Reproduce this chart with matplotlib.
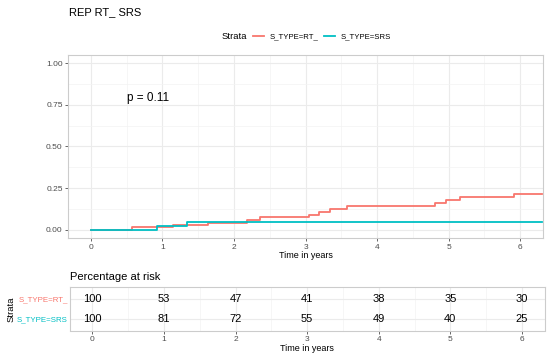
import matplotlib
matplotlib.use('Agg')
import matplotlib.pyplot as plt
from matplotlib.lines import Line2D
import numpy as np

plt.rcParams['font.family'] = ['Liberation Sans', 'DejaVu Sans']

# cumulative incidence curves (step, post)
rt_t = [0, 0.58, 1.15, 1.64, 2.18, 2.37, 3.05, 3.19, 3.34, 3.58, 4.81, 4.97, 5.16, 5.91, 6.3]
rt_y = [0, 0.015, 0.029, 0.043, 0.057, 0.074, 0.091, 0.107, 0.124, 0.141, 0.159, 0.177, 0.195, 0.215, 0.215]
srs_t = [0, 0.93, 1.34, 6.3]
srs_y = [0, 0.022, 0.045, 0.045]

# risk table
table_times = [0, 1, 2, 3, 4, 5, 6]
rt_risk = [100, 53, 47, 41, 38, 35, 30]
srs_risk = [100, 81, 72, 55, 49, 40, 25]
strata = ['S_TYPE=RT_', 'S_TYPE=SRS']
colors = ['#F8766D', '#00BFC4']

W, H = 550, 355
fig = plt.figure(figsize=(W / 100, H / 100), dpi=100)


def px_axes(l, r, t, b):
    return fig.add_axes([l / W, 1 - b / H, (r - l) / W, (b - t) / H])


def style(ax):
    for s in ax.spines.values():
        s.set_color('#CCCCCC')
        s.set_linewidth(0.8)
    ax.grid(True, which='major', color='#EBEBEB', lw=0.8)
    ax.grid(True, which='minor', color='#F3F3F3', lw=0.5)
    ax.set_axisbelow(True)
    ax.tick_params(which='major', length=2.5, width=0.6, color='#4D4D4D',
                   labelsize=6, labelcolor='#4D4D4D', pad=1.5)
    ax.tick_params(which='minor', length=0)


xlim = (-0.315, 6.315)

ax = px_axes(68.3, 542.7, 54.7, 238)
style(ax)
ax.step(rt_t, rt_y, where='post', color=colors[0], lw=1.3)
ax.step(srs_t, srs_y, where='post', color=colors[1], lw=1.3)
ax.set_xlim(*xlim)
ax.set_ylim(-0.05, 1.05)
ax.set_xticks(table_times)
ax.set_xticks(np.arange(0.5, 6.5, 1), minor=True)
ax.set_yticks([0, 0.25, 0.5, 0.75, 1.0])
ax.set_yticks([0.125, 0.375, 0.625, 0.875], minor=True)
ax.set_yticklabels(['0.00', '0.25', '0.50', '0.75', '1.00'])
ax.set_xlabel('Time in years', fontsize=6.5, labelpad=0.5)
ax.text(0.51, 0.79, 'p = 0.11', fontsize=8.5, ha='left', va='center')

fig.text(69 / W, 1 - 12.5 / H, 'REP RT_ SRS', fontsize=8, va='center')
fig.text(222 / W, 1 - 36.5 / H, 'Strata', fontsize=6.8, va='center')
handles = [Line2D([], [], color=c, lw=1.3) for c in colors]
fig.legend(handles, strata, loc='center left', bbox_to_anchor=(253 / W, 1 - 36.5 / H),
           ncol=2, frameon=False, fontsize=5.6, handlelength=1.4, handletextpad=0.7,
           columnspacing=0.8, borderpad=0, borderaxespad=0)

# risk table
ax2 = px_axes(69.8, 544.5, 287, 330.5)
style(ax2)
ax2.set_xlim(*xlim)
ax2.set_ylim(0.4, 2.6)
ax2.set_xticks(table_times)
ax2.set_xticks(np.arange(0.5, 6.5, 1), minor=True)
ax2.set_yticks([2, 1])
ax2.set_yticklabels(strata)
ax2.tick_params(axis='y', length=0, labelsize=5.7)
for lab, c in zip(ax2.get_yticklabels(), colors):
    lab.set_color(c)
ax2.grid(False, axis='y', which='minor')
for t, v in zip(table_times, rt_risk):
    ax2.text(t, 2, str(v), ha='center', va='center', fontsize=8)
for t, v in zip(table_times, srs_risk):
    ax2.text(t, 1, str(v), ha='center', va='center', fontsize=8)
ax2.set_xlabel('Time in years', fontsize=6.5, labelpad=0.5)
ax2.set_ylabel('Strata', fontsize=6.8, labelpad=1)
fig.text(69.5 / W, 1 - 276.5 / H, 'Percentage at risk', fontsize=8, va='center')

fig.savefig('out.png', dpi=100)
